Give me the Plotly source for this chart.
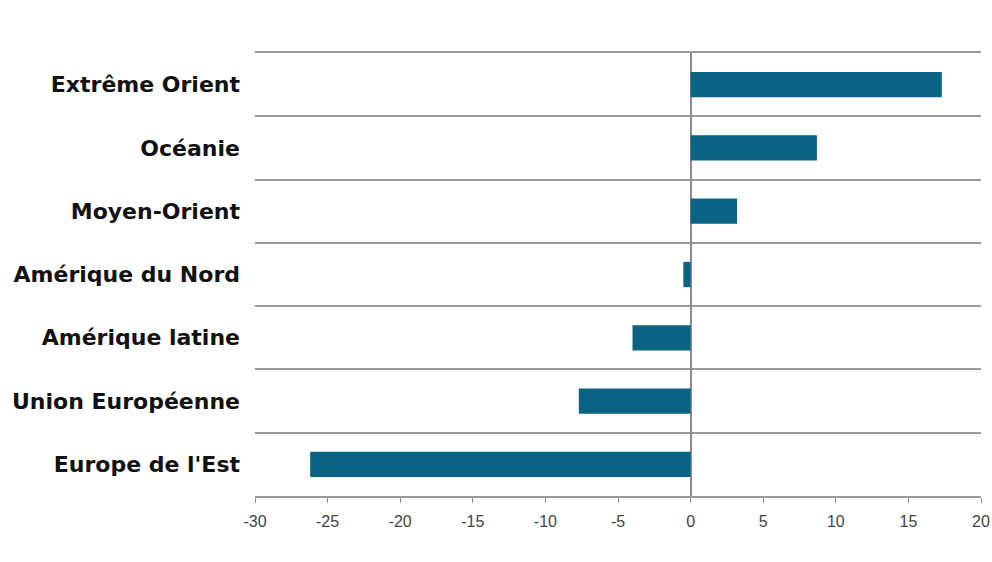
import plotly.graph_objects as go

regions = ["Extrême Orient", "Océanie", "Moyen-Orient", "Amérique du Nord",
           "Amérique latine", "Union Européenne", "Europe de l'Est"]
values = [17.3, 8.7, 3.2, -0.5, -4.0, -7.7, -26.2]
x_ticks = [-30, -25, -20, -15, -10, -5, 0, 5, 10, 15, 20]
x_tick_labels = [str(v) for v in x_ticks]

fig = go.Figure(go.Bar(
    x=values, y=regions, orientation="h",
    marker=dict(color="#0b6282", line=dict(width=0)),
    width=0.4,
))

fig.update_layout(
    width=992, height=562,
    margin=dict(l=255, r=11, t=53, b=66),
    paper_bgcolor="white", plot_bgcolor="white",
    showlegend=False,
    bargap=0.6,
)

fig.update_xaxes(
    range=[-30, 20], tickvals=x_ticks, ticktext=x_tick_labels,
    showgrid=False, automargin=False,
    zeroline=True, zerolinecolor="#8c8c8c", zerolinewidth=1.5,
    showline=True, linecolor="#999999", linewidth=1.5, mirror=True,
    ticks="outside", ticklen=5, tickcolor="#8c8c8c", tickwidth=1,
    tickfont=dict(family="Liberation Sans, Arial", size=16, color="#444444"),
    ticklabelstandoff=5,
)

fig.update_yaxes(
    type="category", autorange="reversed", automargin=False,
    tickson="boundaries",
    showgrid=True, gridcolor="#9a9a9a", gridwidth=1.5,
    ticks="", showline=False, zeroline=False,
    tickfont=dict(family="DejaVu Sans", size=22, color="#111111", weight="bold"),
    ticklabelstandoff=14,
)

fig.write_html("out.html",
               config={"displayModeBar": False},
               post_script="document.body.style.margin='0';document.body.style.overflow='hidden';")
